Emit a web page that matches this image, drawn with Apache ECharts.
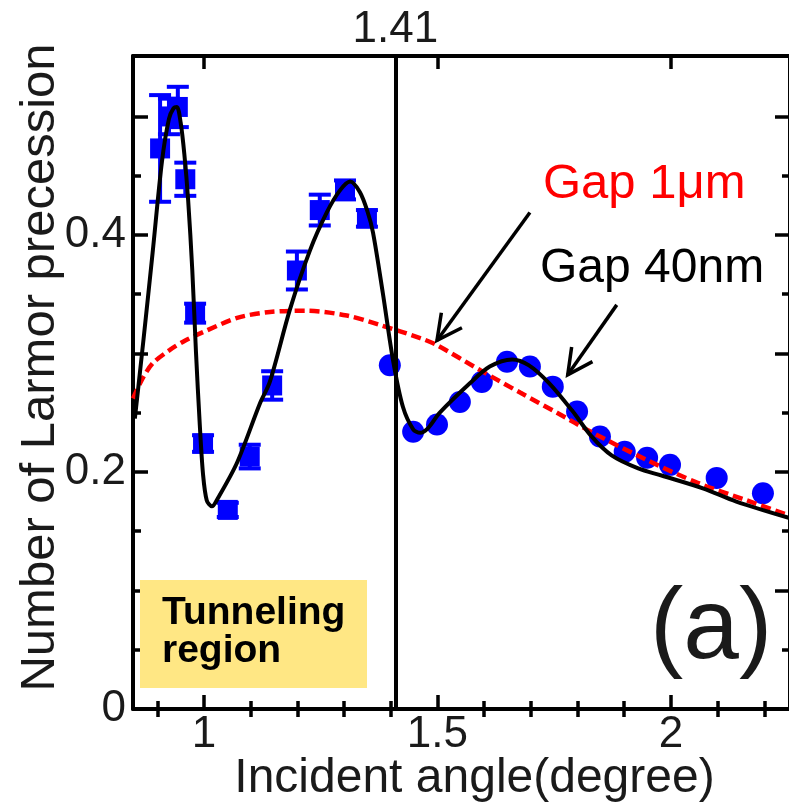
<!DOCTYPE html>
<html><head><meta charset="utf-8">
<script src="https://cdn.jsdelivr.net/npm/echarts@6/dist/echarts.min.js"></script>
<style>html,body{margin:0;padding:0;background:#fff}#c{width:789px;height:804px}</style>
</head><body><div id="c"></div><script>
// ---- data ----
// measured squares with error bars (tunneling side): x, y, error
const squareX   = [0.906, 0.925, 0.944, 0.960, 0.981, 0.998, 1.051, 1.098, 1.146, 1.199, 1.248, 1.302, 1.349];
const squareY   = [0.473, 0.500, 0.508, 0.447, 0.334, 0.224, 0.168, 0.213, 0.273, 0.370, 0.421, 0.438, 0.414];
const squareErr = [0.045, 0.015, 0.017, 0.014, 0.008, 0.007, 0.006, 0.010, 0.012, 0.016, 0.013, 0.008, 0.007];
// measured circles
const circleX = [1.398, 1.448, 1.499, 1.548, 1.595, 1.649, 1.698, 1.747, 1.799, 1.848, 1.901, 1.949, 1.998, 2.098, 2.197];
const circleY = [0.290, 0.234, 0.240, 0.259, 0.276, 0.293, 0.289, 0.272, 0.251, 0.230, 0.217, 0.212, 0.206, 0.195, 0.182];
// Gap 40nm fit (black solid)
const gap40X = [0.852,0.870,0.890,0.910,0.925,0.935,0.942,0.950,0.958,0.966,0.975,0.983,0.991,0.998,1.006,1.017,1.030,1.071,1.120,1.141,1.184,1.227,1.263,1.290,1.313,1.334,1.350,1.362,1.383,1.405,1.426,1.448,1.463,1.480,1.505,1.570,1.612,1.660,1.696,1.739,1.788,1.830,1.873,1.930,1.980,2.070,2.140,2.255];
const gap40Y = [0.245,0.310,0.385,0.462,0.498,0.507,0.508,0.495,0.468,0.430,0.370,0.300,0.240,0.198,0.176,0.171,0.178,0.208,0.258,0.276,0.337,0.387,0.419,0.437,0.445,0.436,0.420,0.402,0.351,0.294,0.255,0.236,0.233,0.237,0.250,0.275,0.289,0.295,0.290,0.275,0.252,0.230,0.214,0.203,0.197,0.186,0.175,0.161];
// Gap 1um curve (red dashed)
const gap1X = [0.848,0.870,0.891,0.927,0.960,0.998,1.071,1.141,1.220,1.306,1.377,1.463,1.499,1.591,1.677,1.756,1.833,1.949,2.056,2.163,2.255];
const gap1Y = [0.262,0.280,0.292,0.303,0.311,0.318,0.330,0.335,0.336,0.332,0.324,0.313,0.307,0.286,0.267,0.250,0.233,0.210,0.191,0.176,0.163];
// axis ticks / labels
const xLabels = [1, 1.5, 2];
const xMajorTicks = [1, 1.5, 2];
const xMinorTicks = [0.9, 1.1, 1.2, 1.3, 1.4, 1.6, 1.7, 1.8, 1.9, 2.1, 2.2];
const topLabels = [1.41];
const yLabels = [0, 0.2, 0.4];
const yMajorTicks = [0, 0.1, 0.2, 0.3, 0.4, 0.5];
const yMinorTicks = [0.05, 0.15, 0.25, 0.35, 0.45];
const boundaryAngle = 1.41;
// annotation arrows: tail x, tail y, tip x, tip y
const arrowTailX = [1.698, 1.884];
const arrowTailY = [0.419, 0.341];
const arrowTipX  = [1.499, 1.779];
const arrowTipY  = [0.311, 0.282];

const X_MIN = 0.848, X_MAX = 2.255, Y_MIN = 0, Y_MAX = 0.551;
const FONT = "'Liberation Sans', Arial, sans-serif";
const TXT = '#1a1a1a';

const zip2 = (a, b) => a.map((v, i) => [v, b[i]]);
const zip3 = (a, b, c) => a.map((v, i) => [v, b[i], c[i]]);

function xAx(pos, ticks, len, labels, extra) {
  return Object.assign({
    type: 'value', position: pos, min: X_MIN, max: X_MAX, gridIndex: 0,
    splitLine: { show: false },
    axisLine: { show: false },
    axisTick: { show: true, inside: true, length: len, customValues: ticks, lineStyle: { color: '#000', width: 3.5 } },
    axisLabel: labels ? { show: true, customValues: labels, fontSize: 44, color: TXT, fontFamily: FONT, margin: 4 } : { show: false }
  }, extra || {});
}
function yAx(pos, ticks, len, labels, extra) {
  return Object.assign({
    type: 'value', position: pos, min: Y_MIN, max: Y_MAX, gridIndex: 0,
    splitLine: { show: false },
    axisLine: { show: false },
    axisTick: { show: true, inside: true, length: len, customValues: ticks, lineStyle: { color: '#000', width: 3.5 } },
    axisLabel: labels ? { show: true, customValues: labels, fontSize: 44, color: TXT, fontFamily: FONT, margin: 7,
      formatter: v => (v === 0 ? '0' : v.toFixed(1)) } : { show: false }
  }, extra || {});
}
const lineOn = { axisLine: { show: true, onZero: false, lineStyle: { color: '#000', width: 4 } } };

const chart = echarts.init(document.getElementById('c'), null, { renderer: 'canvas' });
chart.setOption({
  animation: false,
  backgroundColor: '#fff',
  grid: { left: 133, right: -1, top: 56, bottom: 95, containLabel: false, outerBoundsMode: 'none' },
  xAxis: [
    xAx('bottom', xMajorTicks, 14, xLabels, Object.assign({}, lineOn, {
      name: 'Incident angle(degree)', nameLocation: 'middle', nameGap: 46, nameMoveOverlap: false,
      nameTextStyle: { fontSize: 48, color: TXT, fontFamily: FONT, padding: [0, 0, 0, 26] }
    })),
    xAx('bottom', xMinorTicks, 8, null),
    xAx('top', xMajorTicks, 13, topLabels, lineOn),
    xAx('top', xMinorTicks, 8, null)
  ],
  yAxis: [
    yAx('left', yMajorTicks, 15, yLabels, Object.assign({}, lineOn, {
      name: 'Number of Larmor precession', nameLocation: 'middle', nameGap: 68, nameRotate: 90, nameMoveOverlap: false,
      nameTextStyle: { fontSize: 49, color: TXT, fontFamily: FONT, padding: [0, 0, 0, 30] }
    })),
    yAx('left', yMinorTicks, 8, null),
    yAx('right', yMajorTicks, 15, null, lineOn),
    yAx('right', yMinorTicks, 8, null)
  ],
  series: [
    {
      name: 'errorbars', type: 'custom', xAxisIndex: 0, yAxisIndex: 0, z: 2,
      data: zip3(squareX, squareY, squareErr),
      renderItem: function (params, api) {
        const x = api.value(0), y = api.value(1), e = api.value(2);
        const t = api.coord([x, y + e]), b = api.coord([x, y - e]);
        const hw = 11, st = { stroke: '#0000ff', lineWidth: 4, opacity: 1 };
        return { type: 'group', children: [
          { type: 'line', shape: { x1: t[0], y1: t[1], x2: b[0], y2: b[1] }, style: st },
          { type: 'line', shape: { x1: t[0] - hw, y1: t[1], x2: t[0] + hw, y2: t[1] }, style: st },
          { type: 'line', shape: { x1: b[0] - hw, y1: b[1], x2: b[0] + hw, y2: b[1] }, style: st }
        ]};
      }
    },
    {
      name: 'squares', type: 'scatter', z: 3, symbol: 'rect', symbolSize: 20,
      itemStyle: { color: '#0000ff', opacity: 1 }, data: zip2(squareX, squareY)
    },
    {
      name: 'circles', type: 'scatter', z: 3, symbol: 'circle', symbolSize: 22,
      itemStyle: { color: '#0000ff', opacity: 1 }, data: zip2(circleX, circleY)
    },
    {
      name: 'Gap 1μm', type: 'line', z: 4, smooth: 0.3, symbol: 'none',
      lineStyle: { color: '#ff0000', width: 4.5, type: [10, 5] },
      data: zip2(gap1X, gap1Y)
    },
    {
      name: 'Gap 40nm', type: 'line', z: 5, smooth: 0.3, symbol: 'none',
      lineStyle: { color: '#000', width: 4 },
      data: zip2(gap40X, gap40Y),
      markLine: {
        silent: true, symbol: 'none', z: 6,
        label: { show: false },
        lineStyle: { color: '#000', width: 4, type: 'solid' },
        data: [{ xAxis: boundaryAngle }]
      }
    },
    {
      name: 'arrows', type: 'custom', z: 6,
      data: arrowTailX.map((v, i) => [v, arrowTailY[i], arrowTipX[i], arrowTipY[i]]),
      renderItem: function (params, api) {
        const a = api.coord([api.value(0), api.value(1)]);
        const b = api.coord([api.value(2), api.value(3)]);
        const ang = Math.atan2(a[1] - b[1], a[0] - b[0]);
        const L = 28, da = 27 * Math.PI / 180;
        const h1 = [b[0] + L * Math.cos(ang + da), b[1] + L * Math.sin(ang + da)];
        const h2 = [b[0] + L * Math.cos(ang - da), b[1] + L * Math.sin(ang - da)];
        const st = { stroke: '#000', lineWidth: 3.5, fill: null };
        return { type: 'group', children: [
          { type: 'line', shape: { x1: a[0], y1: a[1], x2: b[0], y2: b[1] }, style: st },
          { type: 'polyline', shape: { points: [h1, b, h2] }, style: st }
        ]};
      }
    }
  ],
  graphic: [
    { type: 'rect', z: 100, shape: { x: 140, y: 580, width: 227, height: 108 }, style: { fill: '#ffe784' } },
    { type: 'text', z: 101, left: 162, top: 594, style: { text: 'Tunneling\nregion', font: "bold 39px 'Liberation Sans', Arial, sans-serif", fill: '#000', lineHeight: 38 } },
    { type: 'text', z: 101, left: 543, top: 160, style: { text: 'Gap 1μm', font: "49px 'Liberation Sans', Arial, sans-serif", fill: '#ff0000' } },
    { type: 'text', z: 101, left: 540, top: 245, style: { text: 'Gap 40nm', font: "48px 'Liberation Sans', Arial, sans-serif", fill: '#000' } },
    { type: 'text', z: 101, left: 650, top: 580, style: { text: '(a)', font: "100px 'Liberation Sans', Arial, sans-serif", fill: TXT } }
  ]
});
</script></body></html>
